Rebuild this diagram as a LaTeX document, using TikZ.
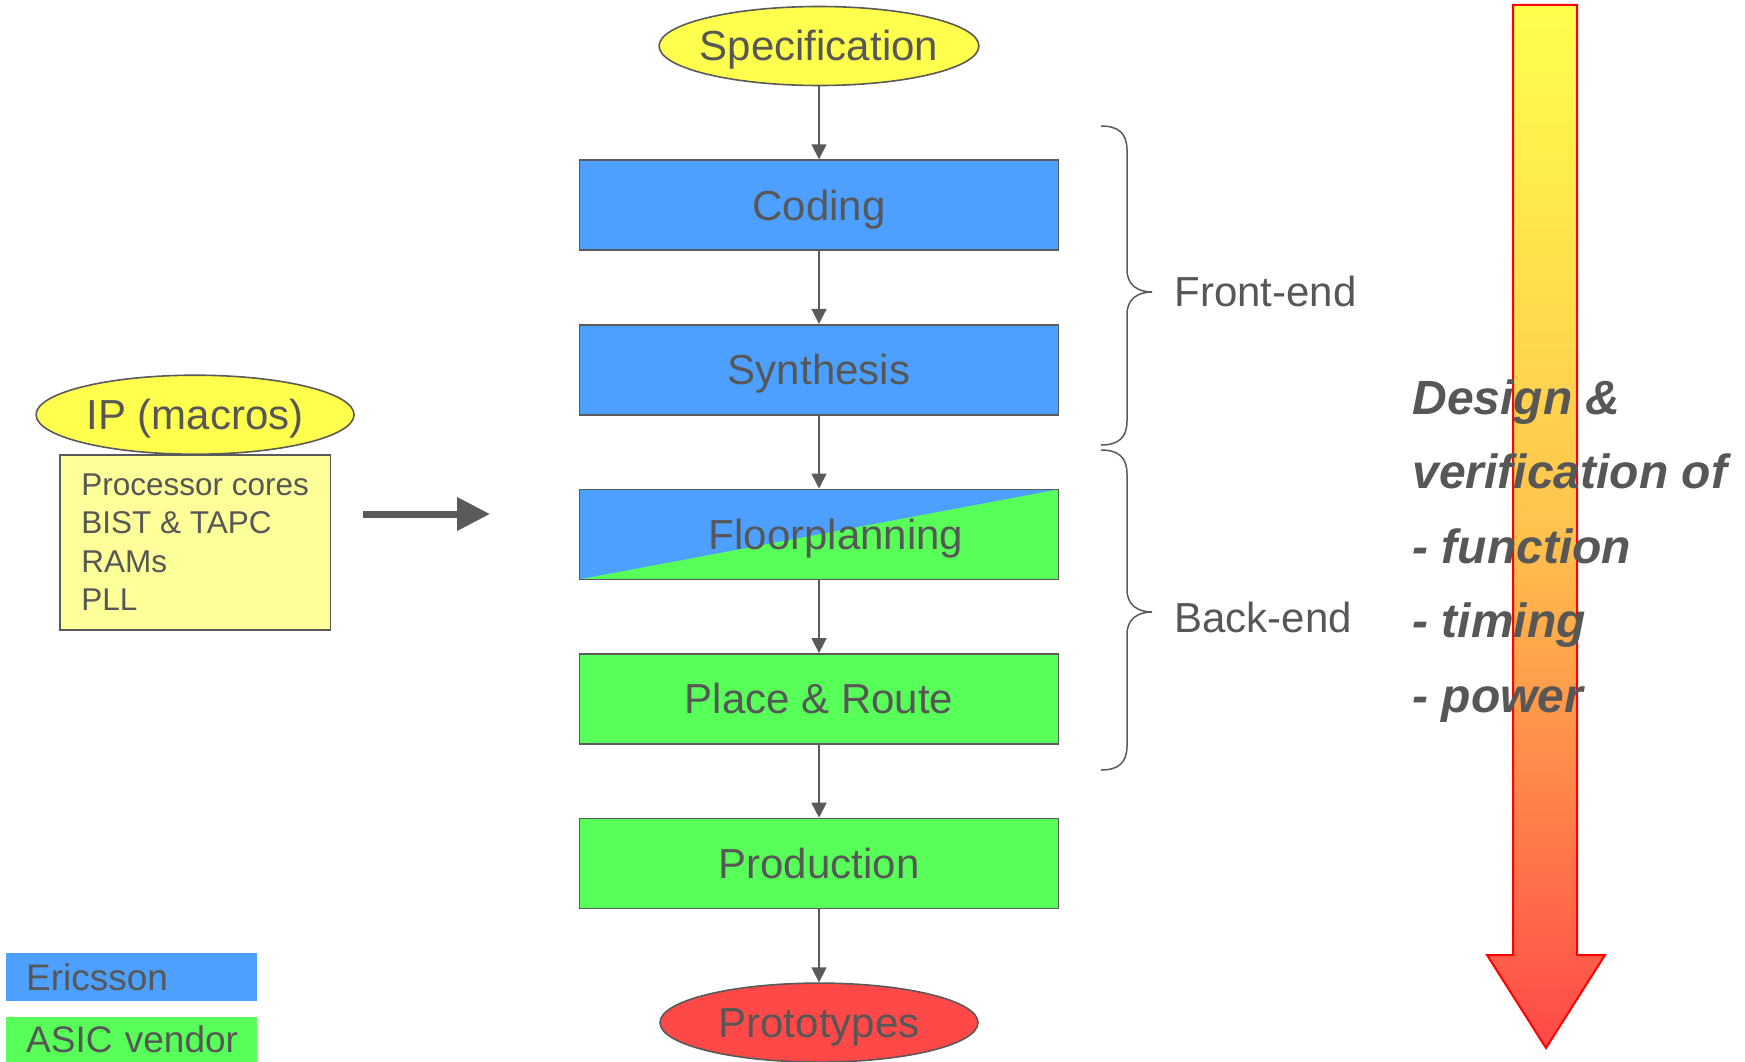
\documentclass[tikz,border=0pt]{standalone}
\usepackage{fontspec}
\setmainfont{Liberation Sans}
\usetikzlibrary{positioning,shapes.geometric,arrows.meta}
\definecolor{ericblue}{RGB}{77,160,255}
\definecolor{vendgreen}{RGB}{88,255,88}
\definecolor{specyellow}{RGB}{255,255,77}
\definecolor{ipyellow}{RGB}{255,255,153}
\definecolor{protored}{RGB}{255,72,72}
\definecolor{textgray}{RGB}{87,87,87}
\definecolor{linegray}{RGB}{90,90,90}
\begin{document}
\begin{tikzpicture}
            [x=1pt, y=-1pt, node distance=73pt,
             every node/.style = {text=textgray},
             flowbox/.style = {rectangle, draw=linegray, line width=1.6pt, minimum width=479pt, minimum height=90pt,
                               text height=30pt, text depth=0pt, font=\fontsize{42}{50}\selectfont},
             oval/.style = {ellipse, draw=linegray, line width=1.6pt, minimum width=318pt, minimum height=79pt, inner xsep=-6pt,
                            text height=30pt, text depth=0pt, font=\fontsize{42}{50}\selectfont},
             flow/.style = {draw=linegray, line width=1.6pt, -{Triangle[length=15pt,width=15pt]}},
             fat/.style = {draw=linegray, line width=7pt, -{Triangle[length=33pt,width=32pt]}},
             legend/.style = {fill=#1, anchor=north west, minimum height=48pt, text width=211pt, inner xsep=20pt, align=left, font=\fontsize{37}{44}\selectfont},
             curly/.style = {draw=linegray, line width=1.5pt}]
            \useasboundingbox (0,0) rectangle (1745,1062);
            \path[draw=red, line width=2pt,
                  top color={rgb,255:red,255;green,255;blue,77},
                  bottom color={rgb,255:red,255;green,72;blue,72},
                  middle color={rgb,255:red,255;green,195;blue,77}]
                (1513,5) -- (1577,5) -- (1577,955) -- (1605,955) -- (1546,1048)
                -- (1487,955) -- (1513,955) -- cycle;
            \node[oval, fill=specyellow] (spec) at (819,46) {Specification};
            \node[flowbox, fill=ericblue] (coding) [below=of spec] {Coding};
            \node[flowbox, fill=ericblue] (synth) [below=of coding] {Synthesis};
            \node[flowbox, fill=vendgreen, path picture={
                \fill[ericblue] (path picture bounding box.south west) -- (path picture bounding box.north west)
                    -- (path picture bounding box.north east) -- cycle;}] (floor) [below=of synth] {\hspace*{34pt}Floorplanning};
            \node[flowbox, fill=vendgreen] (pnr) [below=of floor] {Place \& Route};
            \node[flowbox, fill=vendgreen] (prod) [below=of pnr] {Production};
            \node[oval, fill=protored] (proto) [below=of prod] {Prototypes};
            \draw[flow] (spec) -- (coding);
            \draw[flow] (coding) -- (synth);
            \draw[flow] (synth) -- (floor);
            \draw[flow] (floor) -- (pnr);
            \draw[flow] (pnr) -- (prod);
            \draw[flow] (prod) -- (proto);
            \node[draw=linegray, line width=1.6pt, fill=ipyellow, align=left, inner xsep=21.5pt, minimum height=175pt,
                  font=\fontsize{31.5}{38.5}\selectfont, anchor=north west] (ipbox) at (59,454)
                  {Processor cores\\BIST \& TAPC\\RAMs\\PLL};
            \node[oval, fill=specyellow] (ip) [above=-1pt of ipbox] {IP (macros)};
            \coordinate (fatstart) at (363,514);
            \coordinate (fatend) at (490,514);
            \draw[fat] (fatstart) -- (fatend);
            \draw[curly] (1101,126) .. controls (1118,126) and (1127,133) .. (1127,150) -- (1127,270)
                .. controls (1127,285) and (1138,292) .. (1152,292)
                .. controls (1138,292) and (1127,299) .. (1127,314) -- (1127,421)
                .. controls (1127,438) and (1118,445) .. (1101,445);
            \draw[curly] (1101,450) .. controls (1118,450) and (1127,457) .. (1127,474) -- (1127,590)
                .. controls (1127,605) and (1138,612) .. (1152,612)
                .. controls (1138,612) and (1127,619) .. (1127,634) -- (1127,746)
                .. controls (1127,763) and (1118,770) .. (1101,770);
            \node[anchor=base west, font=\fontsize{42}{50}\selectfont] (front) at (1171,306) {Front-end};
            \node[anchor=base west, font=\fontsize{42}{50}\selectfont] (back) at (1171,632) {Back-end};
            \node[anchor=base west, align=left, font=\fontsize{48}{74.5}\selectfont\bfseries\itshape] (design) at (1409,712)
                {Design \&\\verification of\\- function\\- timing\\- power};
            \node[legend=ericblue] (ericsson) at (6,953) {Ericsson};
            \node[legend=vendgreen, minimum height=45pt] (vendor) at (6,1017) {\mbox{ASIC vendor}};
        \end{tikzpicture}
\end{document}
